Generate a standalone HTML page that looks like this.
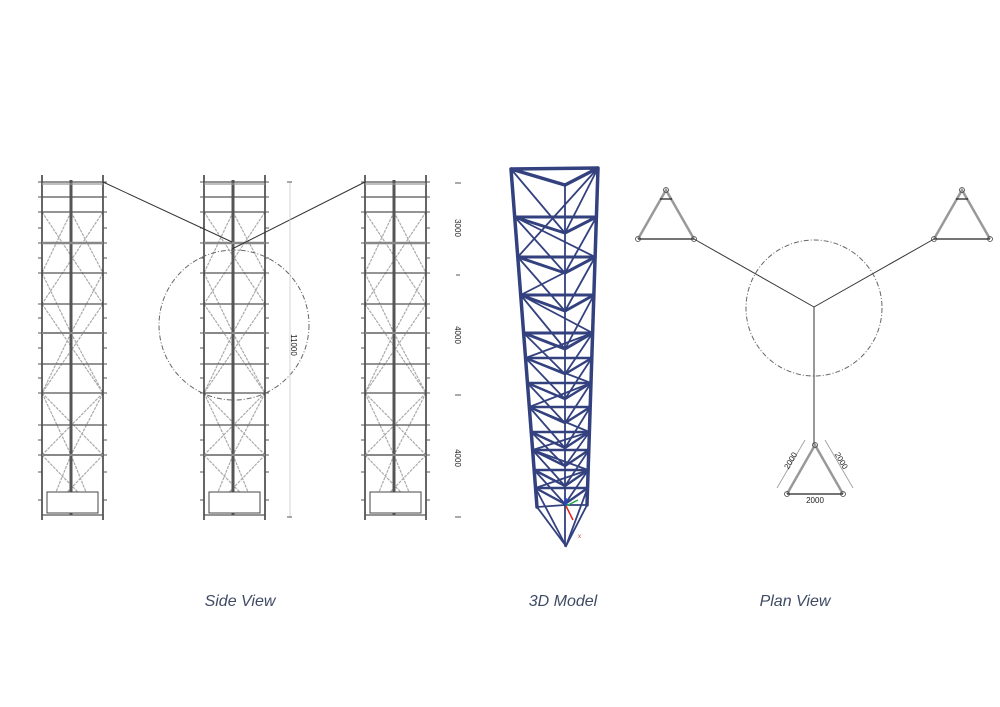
<!DOCTYPE html>
<html><head><meta charset="utf-8"><style>
html,body{margin:0;padding:0;background:#fff;}
svg{display:block}
.cap{font-family:"Liberation Sans",sans-serif;font-style:italic;font-size:16px;fill:#3f4b63}
.dim{font-family:"Liberation Sans",sans-serif;font-size:8px;fill:#222}
</style></head><body>
<svg width="1000" height="707" viewBox="0 0 1000 707" xmlns="http://www.w3.org/2000/svg">
<defs>
<g id="tw">
  <g stroke="#aaa" stroke-width="1.2" stroke-dasharray="3,1" fill="none">
    <path d="M42,212 L103,304 M103,212 L42,304 M42,304 L103,393 M103,304 L42,393 M42,393 L103,455 M103,393 L42,455 M42,455 L98,513 M103,455 L47,513"/>
    <path d="M71,212 L42,273 M71,212 L103,273 M42,273 L71,333 M103,273 L71,333 M71,333 L42,393 M71,333 L103,393 M42,393 L71,455 M103,393 L71,455 M71,455 L56,492 M71,455 L86,492"/>
  </g>
  <g stroke="#333" fill="none">
    <line x1="42" y1="175" x2="42" y2="520" stroke-width="1.5"/>
    <line x1="103" y1="175" x2="103" y2="520" stroke-width="1.5"/>
    <line x1="71" y1="180" x2="71" y2="515" stroke-width="3" stroke="#555"/>
  </g>
  <g stroke="#555" stroke-width="1.3">
    <line x1="42" y1="182" x2="103" y2="182"/><line x1="42" y1="184" x2="103" y2="184" stroke="#999"/>
    <line x1="42" y1="197" x2="103" y2="197"/>
    <line x1="42" y1="212" x2="103" y2="212"/>
    <line x1="42" y1="243" x2="103" y2="243" stroke-width="2.5" stroke="#888"/>
    <line x1="42" y1="273" x2="103" y2="273"/>
    <line x1="42" y1="304" x2="103" y2="304"/>
    <line x1="42" y1="333" x2="103" y2="333" stroke="#888" stroke-width="2"/>
    <line x1="42" y1="364" x2="103" y2="364"/>
    <line x1="42" y1="393" x2="103" y2="393"/>
    <line x1="42" y1="425" x2="103" y2="425"/>
    <line x1="42" y1="455" x2="103" y2="455" stroke="#888" stroke-width="2"/>
    <line x1="42" y1="515" x2="103" y2="515"/>
  </g>
  <g stroke="#555" stroke-width="1">
    <path d="M38,182h4M103,182h4M38,197h4M103,197h4M38,212h4M103,212h4M38,228h4M103,228h4M38,243h4M103,243h4M38,258h4M103,258h4M38,273h4M103,273h4M38,304h4M103,304h4M38,318h4M103,318h4M38,333h4M103,333h4M38,348h4M103,348h4M38,364h4M103,364h4M38,378h4M103,378h4M38,393h4M103,393h4M38,425h4M103,425h4M38,440h4M103,440h4M38,455h4M103,455h4M38,472h4M103,472h4M38,500h4M103,500h4"/>
  </g>
  <rect x="47" y="492" width="51" height="21" fill="#fff" stroke="#444" stroke-width="1"/>
</g>
</defs>

<use href="#tw"/>
<use href="#tw" transform="translate(162,0)"/>
<use href="#tw" transform="translate(323,0)"/>

<line x1="103" y1="182" x2="232" y2="242" stroke="#333" stroke-width="1"/>
<line x1="365" y1="182" x2="232" y2="249" stroke="#333" stroke-width="1"/>
<circle cx="234" cy="325" r="75" fill="none" stroke="#666" stroke-width="1" stroke-dasharray="5,2,1,2"/>

<line x1="290" y1="182" x2="290" y2="517" stroke="#ccc" stroke-width="0.8"/>
<path d="M287,182h5M287,517h5" stroke="#555"/>
<text class="dim" transform="translate(291,345) rotate(90)" text-anchor="middle">11000</text>
<path d="M455,183h6M456,275h4M455,395h6M455,517h6" stroke="#555"/>
<text class="dim" transform="translate(455,228) rotate(90)" text-anchor="middle">3000</text>
<text class="dim" transform="translate(455,335) rotate(90)" text-anchor="middle">4000</text>
<text class="dim" transform="translate(455,458) rotate(90)" text-anchor="middle">4000</text>

<g stroke="#33417f" stroke-linecap="round" fill="none">
 <g stroke-width="3.5">
  <path d="M511,169 L598,168 L565,185 Z"/>
  <path d="M511,169 L537,507 M598,168 L587,505"/>
 </g>
 <g stroke-width="3">
  <path d="M514.8,217 L596.4,217 M514.8,217 L565,233 L596.4,217"/>
  <path d="M517.8,257 L595.1,257 M517.8,257 L565,273 L595.1,257"/>
  <path d="M520.7,295 L593.9,295 M520.7,295 L565,311 L593.9,295"/>
  <path d="M523.7,333 L592.6,333 M523.7,333 L565,349 L592.6,333"/>
 </g>
 <g stroke-width="2.4">
  <path d="M525.6,358 L591.8,358 M525.6,358 L565,374 L591.8,358"/>
  <path d="M527.5,383 L591,383 M527.5,383 L565,399 L591,383"/>
  <path d="M529.3,407 L590.3,407 M529.3,407 L565,423 L590.3,407"/>
  <path d="M531.3,432 L589.4,432 M531.3,432 L565,448 L589.4,432"/>
  <path d="M532.6,450 L588.9,450 M532.6,450 L565,466 L588.9,450"/>
  <path d="M534.2,470 L588.2,470 M534.2,470 L565,486 L588.2,470"/>
  <path d="M535.5,488 L587.6,488 M535.5,488 L565,504 L587.6,488"/>
 </g>
 <g stroke-width="1.8">
  <path d="M565,185 L565,546 M537,507 L566,546 L587,505 M537,507 L565,505 L587,505"/>
  <path d="M511,169 L565,233 M598,168 L565,233 M598,168 L517.8,257 M514.8,217 L565,273 M596.4,217 L565,273 M514.8,217 L595.1,257"/>
  <path d="M517.8,257 L565,311 M595.1,257 L565,311 M595.1,257 L520.7,295 M520.7,295 L565,349 M593.9,295 L565,349 M520.7,295 L592.6,333"/>
  <path d="M523.7,333 L565,374 M592.6,333 L565,374 M592.6,333 L525.6,358 M525.6,358 L565,399 M591.8,358 L565,399 M525.6,358 L591,383"/>
  <path d="M527.5,383 L565,423 M591,383 L565,423 M591,383 L529.3,407 M529.3,407 L565,448 M590.3,407 L565,448 M529.3,407 L589.4,432"/>
  <path d="M531.3,432 L565,466 M589.4,432 L565,466 M589.4,432 L532.6,450 M532.6,450 L565,486 M588.9,450 L565,486 M532.6,450 L588.2,470"/>
  <path d="M534.2,470 L565,504 M588.2,470 L565,504 M588.2,470 L535.5,488 M535.5,488 L566,546 M587.6,488 L566,546"/>
 </g>
</g>
<line x1="566" y1="506" x2="566" y2="498" stroke="#2040ff" stroke-width="1.5"/>
<line x1="566" y1="506" x2="578" y2="500" stroke="#22aa44" stroke-width="1.5"/>
<line x1="566" y1="506" x2="573" y2="520" stroke="#e02020" stroke-width="1.5"/>
<text x="578" y="538" font-family="Liberation Sans,sans-serif" font-size="6" fill="#c33">x</text>

<g stroke="#333" fill="none" stroke-width="1">
 <line x1="694" y1="239" x2="814" y2="307"/>
 <line x1="934" y1="239" x2="814" y2="307"/>
 <line x1="814" y1="307" x2="814" y2="445"/>
 <circle cx="814" cy="308" r="68" stroke="#666" stroke-dasharray="5,2,1,2"/>
</g>
<g fill="none">
 <g stroke="#999" stroke-width="2.5">
  <path d="M638,239 L666,190 L694,239"/>
  <path d="M934,239 L962,190 L990,239"/>
  <path d="M787,494 L815,445 L843,494"/>
 </g>
 <g stroke="#222" stroke-width="1.3">
  <path d="M638,239 L694,239 M660,199h12"/>
  <path d="M934,239 L990,239 M956,199h12"/>
  <path d="M787,494 L843,494"/>
 </g>
 <g stroke="#444" stroke-width="0.8">
  <circle cx="666" cy="190" r="2.5"/><circle cx="638" cy="239" r="2.5"/><circle cx="694" cy="239" r="2.5"/>
  <circle cx="962" cy="190" r="2.5"/><circle cx="934" cy="239" r="2.5"/><circle cx="990" cy="239" r="2.5"/>
  <circle cx="815" cy="445" r="2.5"/><circle cx="787" cy="494" r="2.5"/><circle cx="843" cy="494" r="2.5"/>
  <path d="M777,488 L805,440 M825,440 L853,488" stroke="#999"/>
 </g>
</g>
<text class="dim" transform="translate(793,462) rotate(-60)" text-anchor="middle">2000</text>
<text class="dim" transform="translate(839,462) rotate(60)" text-anchor="middle">2000</text>
<text class="dim" x="815" y="503" text-anchor="middle">2000</text>

<text class="cap" x="240" y="606" text-anchor="middle">Side View</text>
<text class="cap" x="563" y="606" text-anchor="middle">3D Model</text>
<text class="cap" x="795" y="606" text-anchor="middle">Plan View</text>
</svg>
</body></html>
